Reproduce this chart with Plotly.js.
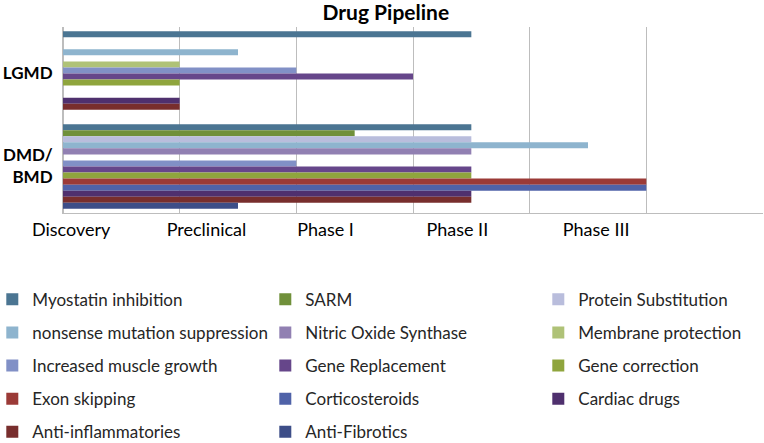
<!DOCTYPE html>
<html>
<head>
<meta charset="utf-8">
<script src="https://cdn.plot.ly/plotly-3.0.1.min.js"></script>
<style>html,body{margin:0;padding:0;background:#fff;}#chart{width:764px;height:443px;}</style>
</head>
<body>
<div id="chart"></div>
<script>
// Categories (top to bottom)
const categories = ['LGMD', 'DMD/<br>BMD'];

// Series names (legend order) and the stage each reaches (phase units: 1 = Preclinical, 2 = Phase I, ...)
const seriesNames = [
  'Myostatin inhibition', 'SARM', 'Protein Substitution',
  'nonsense mutation suppression', 'Nitric Oxide Synthase', 'Membrane protection',
  'Increased muscle growth', 'Gene Replacement', 'Gene correction',
  'Exon skipping', 'Corticosteroids', 'Cardiac drugs',
  'Anti-inflammatories', 'Anti-Fibrotics'
];
const lgmdValues = [3.5, 0, 0, 1.5, 0, 1, 2, 3, 1, 0, 0, 1, 1, 0];
const dmdValues  = [3.5, 2.5, 3.5, 4.5, 3.5, 0, 2, 3.5, 3.5, 5, 5, 3.5, 3.5, 1.5];

const seriesColors = [
  '#4B7592', '#70903A', '#B9BDDC',
  '#8EB4CE', '#9180B2', '#AFC277',
  '#8190C6', '#66468A', '#8FA53D',
  '#9B3A37', '#4F62A8', '#4F306E',
  '#782E2D', '#3D4E88'
];
// legend column each series is listed in
const legendColumn = ['legend', 'legend2', 'legend3',
  'legend', 'legend2', 'legend3',
  'legend', 'legend2', 'legend3',
  'legend', 'legend2', 'legend3',
  'legend', 'legend2'];

// Stage tick labels and where they sit along the axis
const stageLabels = ['Discovery', 'Preclinical', 'Phase I', 'Phase II', 'Phase III'];
const stageLabelPos = [0.07, 1.23, 2.25, 3.38, 4.57];

const FONT = 'Lato, "Open Sans", "Liberation Sans", sans-serif';

const traces = seriesNames.map((name, i) => ({
  type: 'bar',
  orientation: 'h',
  name: name,
  x: [lgmdValues[i], dmdValues[i]],
  y: categories,
  marker: {color: seriesColors[i], line: {width: 0}},
  legend: legendColumn[i],
  legendgroup: 'g' + i,
  hoverinfo: 'x+name'
}));

// invisible helper trace carrying the stage labels axis
traces.push({
  type: 'scatter', mode: 'markers', x: [0, 6], y: categories,
  xaxis: 'x2', marker: {opacity: 0}, showlegend: false, hoverinfo: 'skip'
});

const legendBase = {
  orientation: 'v', yanchor: 'top', xanchor: 'left',
  y: -0.37, font: {family: FONT, size: 17, color: '#262626'},
  tracegroupgap: 8, bgcolor: 'rgba(0,0,0,0)', borderwidth: 0
};

const layout = {
  width: 764, height: 443,
  margin: {l: 63, r: 1, t: 27, b: 230, autoexpand: false},
  paper_bgcolor: '#ffffff', plot_bgcolor: '#ffffff',
  font: {family: FONT, color: '#000000'},
  title: {text: '<b>Drug Pipeline</b>', font: {family: FONT, size: 21, color: '#000'},
          x: 0.505, xanchor: 'center', y: 0.972, yanchor: 'middle'},
  barmode: 'group', bargap: 0.09, bargroupgap: 0,
  xaxis: {range: [0, 6], dtick: 1, tick0: 0, showgrid: true, gridcolor: '#BDBDBD', gridwidth: 1,
          showticklabels: false, zeroline: true, zerolinecolor: '#BDBDBD', zerolinewidth: 1,
          showline: true, linecolor: '#BDBDBD', linewidth: 1, ticks: '', fixedrange: true},
  xaxis2: {range: [0, 6], overlaying: 'x', side: 'bottom', tickmode: 'array',
           tickvals: stageLabelPos, ticktext: stageLabels, showgrid: false, zeroline: false,
           showline: false, ticks: '', ticklabelstandoff: 4,
           tickfont: {family: FONT, size: 18, color: '#000'}},
  yaxis: {type: 'category', autorange: 'reversed', showgrid: false, zeroline: false,
          showline: true, linecolor: '#BDBDBD', linewidth: 1, ticks: '', ticklen: 0,
          ticklabelstandoff: 6,
          tickfont: {family: FONT, size: 17, color: '#000', weight: 'bold'}},
  legend: Object.assign({}, legendBase, {x: -0.101}),
  legend2: Object.assign({}, legendBase, {x: 0.289}),
  legend3: Object.assign({}, legendBase, {x: 0.679}),
  showlegend: true
};

Plotly.newPlot('chart', traces, layout, {displayModeBar: false, staticPlot: true});
</script>
</body>
</html>
